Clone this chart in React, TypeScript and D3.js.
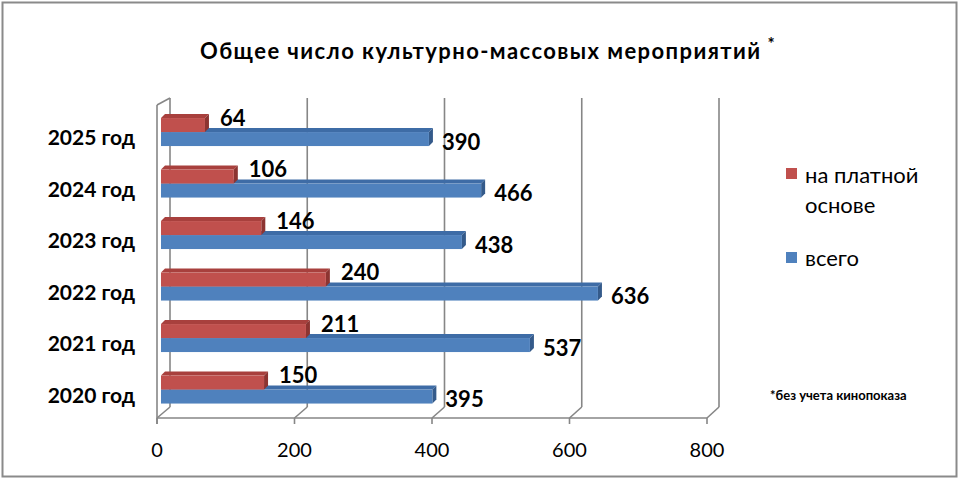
import React from "react";
import * as d3 from "d3";

const categories = ["2025 год", "2024 год", "2023 год", "2022 год", "2021 год", "2020 год"];
const paidValues = [64, 106, 146, 240, 211, 150];
const totalValues = [390, 466, 438, 636, 537, 395];
const ticks = [0, 200, 400, 600, 800];
const seriesNames = ["на платной основе", "всего"];
const title = "Общее число культурно-массовых мероприятий";
const footnote = "*без учета кинопоказа";

const RED = "#C0504D";
const RED_TOP = "#A8403D";
const RED_SIDE = "#8C3431";
const BLUE = "#4F81BD";
const BLUE_TOP = "#3E6CA6";
const BLUE_SIDE = "#345A8A";
const GRID = "#868686";
const FONT = "Lato, 'Open Sans', sans-serif";

export default function App() {
  const W = 960, H = 480;
  const xFront = d3.scaleLinear().domain([0, 800]).range([157, 707]);
  const xBack = d3.scaleLinear().domain([0, 800]).range([170, 719]);
  const xBar = d3.scaleLinear().domain([0, 800]).range([161, 710.6]);
  const y = d3.scaleBand<string>().domain(categories).range([106.3, 415.3]).padding(0);
  const bw = 14;
  const dx = 4, dy = -4;
  const backTop = 98, backBottom = 407, frontBottom = 418, frontTop = 105;

  const bar = (x0: number, x1: number, yTop: number, front: string, top: string, side: string, key: string) => (
    <g key={key}>
      <polygon points={`${x0},${yTop} ${x0 + dx},${yTop + dy} ${x1 + dx},${yTop + dy} ${x1},${yTop}`} fill={top} />
      <polygon points={`${x1},${yTop} ${x1 + dx},${yTop + dy} ${x1 + dx},${yTop + bw + dy} ${x1},${yTop + bw}`} fill={side} />
      <rect x={x0} y={yTop} width={x1 - x0} height={bw} fill={front} />
    </g>
  );

  return (
    <svg width={W} height={H} style={{ position: "absolute", left: 0, top: 0, background: "#fff" }} fontFamily={FONT}>
      <rect x={0} y={0} width={W} height={H} fill="#fff" />
      <rect x={2.5} y={2.5} width={954} height={474} fill="none" stroke="#8a8a8a" strokeWidth={2} />

      <text x={200} y={59} fontWeight="bold" fontSize={22} textLength={560} lengthAdjust="spacing" fill="#000">{title}</text>
      <text x={771} y={50} textAnchor="middle" fontWeight="bold" fontSize={17} fill="#000">*</text>

      {/* back wall gridlines */}
      {ticks.map((t) => (
        <g key={"g" + t} stroke={GRID} strokeWidth={1.6} fill="none">
          <line x1={xBack(t)} y1={backTop} x2={xBack(t)} y2={backBottom} />
          <line x1={xBack(t)} y1={backBottom} x2={xFront(t)} y2={frontBottom} />
          <line x1={xFront(t)} y1={frontBottom} x2={xFront(t)} y2={frontBottom + 6} />
        </g>
      ))}
      {/* left wall */}
      <g stroke={GRID} strokeWidth={1.6} fill="none">
        <line x1={xFront(0)} y1={frontTop} x2={xFront(0)} y2={frontBottom + 6} />
        <line x1={xFront(0)} y1={frontTop} x2={xBack(0)} y2={backTop} />
        <line x1={xFront(0)} y1={frontBottom} x2={xFront(800)} y2={frontBottom} />
      </g>

      {categories.map((c, i) => {
        const cy = (y(c) as number) + y.bandwidth() / 2;
        return (
          <g key={c}>
            {bar(xBar(0), xBar(totalValues[i]), cy, BLUE, BLUE_TOP, BLUE_SIDE, "b")}
            {bar(xBar(0), xBar(paidValues[i]), cy - bw, RED, RED_TOP, RED_SIDE, "r")}
            <text x={xBar(paidValues[i]) + dx + 11} y={cy - 14} dy="0.35em" fontWeight="bold" fontSize={22} fill="#000">{paidValues[i]}</text>
            <text x={xBar(totalValues[i]) + dx + 9} y={cy + 10} dy="0.35em" fontWeight="bold" fontSize={22} fill="#000">{totalValues[i]}</text>
            <text x={135} y={cy + 6} dy="0.35em" textAnchor="end" fontWeight="bold" fontSize={21} fill="#000">{c}</text>
          </g>
        );
      })}

      {ticks.map((t) => (
        <text key={"t" + t} x={xFront(t)} y={450} dy="0.35em" textAnchor="middle" fontSize={20} fill="#000">{t}</text>
      ))}

      {/* legend */}
      <rect x={786} y={168} width={11} height={11} fill={RED} />
      <text x={805} y={175} dy="0.35em" fontSize={22} fill="#000">на платной</text>
      <text x={805} y={205} dy="0.35em" fontSize={22} fill="#000">основе</text>
      <rect x={786} y={252} width={11} height={11} fill={BLUE} />
      <text x={805} y={258} dy="0.35em" fontSize={22} fill="#000">{seriesNames[1]}</text>

      <text x={770} y={395} dy="0.35em" fontWeight="bold" fontSize={13} fill="#000">{footnote}</text>
    </svg>
  );
}
